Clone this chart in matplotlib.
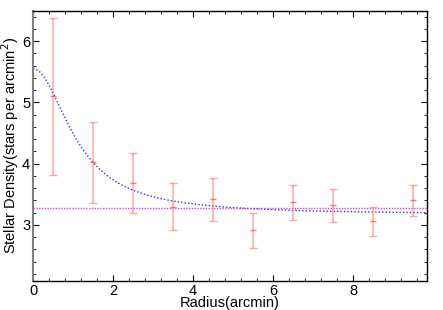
import numpy as np
import matplotlib
matplotlib.use("Agg")
import matplotlib.pyplot as plt
from matplotlib.ticker import MultipleLocator

plt.rcParams['font.family'] = ['Liberation Sans', 'DejaVu Sans']

# Observed radial density profile
radius = [0.5, 1.5, 2.5, 3.5, 4.5, 5.5, 6.5, 7.5, 8.5, 9.5]
density = [5.10, 4.02, 3.68, 3.30, 3.42, 2.91, 3.37, 3.32, 3.06, 3.40]
density_err = [1.28, 0.66, 0.49, 0.38, 0.35, 0.29, 0.29, 0.27, 0.24, 0.25]

# King-profile fit parameters
king_bg = 3.17
king_f0 = 2.38
king_rc = 1.12

# Background density level
background = 3.27

fig = plt.figure(figsize=(4.43, 3.10), dpi=100)
ax = fig.add_axes([0.0745, 0.0935, 0.8895, 0.8725])

r = np.linspace(0, 9.85, 300)
model = king_bg + king_f0 / (1 + (r / king_rc) ** 2)
ax.plot(r, model, color='#3030e0', linestyle=(0, (1, 1.5)), linewidth=1.0)
ax.axhline(background, color='#e040e0', linestyle=(0, (1, 1)), linewidth=1.0)

ax.errorbar(radius, density, yerr=density_err, fmt='_', color='#ff5050',
            ecolor='#ff8888', elinewidth=1.1, capsize=3, capthick=1.0,
            markersize=5, alpha=0.75)

ax.set_xlim(0, 9.85)
ax.set_ylim(2.085, 6.5)
ax.xaxis.set_major_locator(MultipleLocator(2))
ax.xaxis.set_minor_locator(MultipleLocator(0.4))
ax.yaxis.set_major_locator(MultipleLocator(1))
ax.yaxis.set_minor_locator(MultipleLocator(0.2))
ax.tick_params(which='both', direction='in', top=True, right=True, labelsize=10.5)
ax.tick_params(which='major', length=4, pad=2)
ax.tick_params(which='minor', length=2)
for s in ['top', 'right', 'bottom']:
    ax.spines[s].set_linewidth(1.0)
ax.spines['left'].set_color('#808080')
ax.spines['left'].set_linewidth(1.5)

ax.set_xlabel('Radius(arcmin)', fontsize=10.5, labelpad=-1)
ax.set_ylabel('Stellar Density(stars per arcmin$^2$)', fontsize=10.5, labelpad=1)

fig.savefig('out.png', dpi=100)
